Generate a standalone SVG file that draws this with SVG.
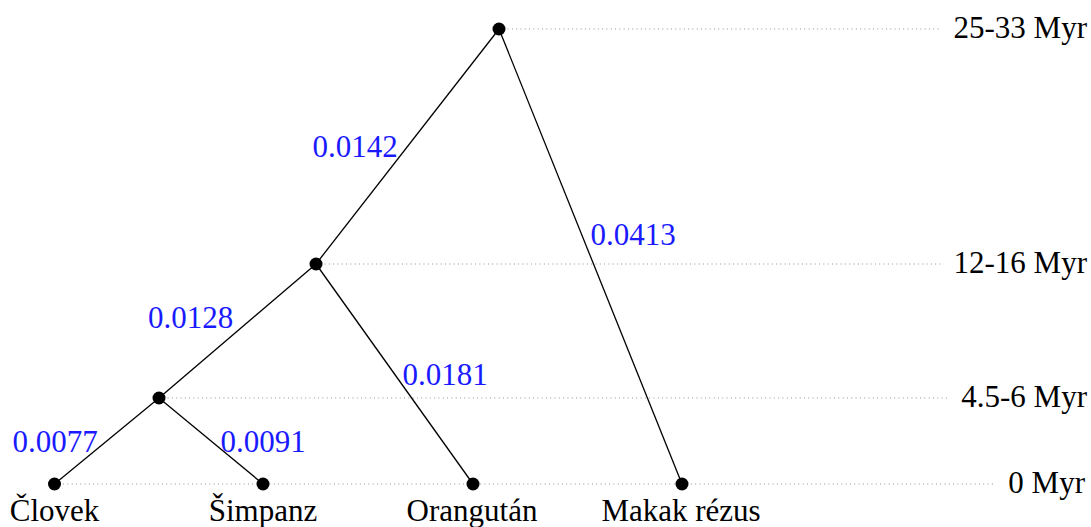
<svg xmlns="http://www.w3.org/2000/svg" width="1091" height="527" viewBox="0 0 1091 527">
<style>
.edge{stroke:#000;stroke-width:1.3;fill:none}
.guide{stroke:#8a8a8a;stroke-width:1;stroke-dasharray:0.9 3.4;fill:none}
.dot{fill:#000}
text{font-family:"Liberation Serif","DejaVu Serif",serif;font-size:31px}
.blen{fill:#1a1aff;text-anchor:middle}
.leaf{fill:#000;text-anchor:middle}
.time{fill:#000;text-anchor:end}
</style>
<rect width="1091" height="527" fill="#fff"/>
<g id="guides">
<line class="guide" x1="499" y1="29" x2="940" y2="29"/>
<line class="guide" x1="316" y1="264" x2="944" y2="264"/>
<line class="guide" x1="159" y1="398" x2="950" y2="398"/>
<line class="guide" x1="54.5" y1="484" x2="996" y2="484"/>
</g>
<g id="connectors">
<line class="edge" x1="499" y1="29" x2="316" y2="264"/>
<line class="edge" x1="499" y1="29" x2="682" y2="484"/>
<line class="edge" x1="316" y1="264" x2="159" y2="398"/>
<line class="edge" x1="316" y1="264" x2="473" y2="484"/>
<line class="edge" x1="159" y1="398" x2="54.5" y2="484"/>
<line class="edge" x1="159" y1="398" x2="263" y2="484"/>
</g>
<g id="branch-lengths">
<text class="blen" x="355" y="157">0.0142</text>
<text class="blen" x="633" y="245">0.0413</text>
<text class="blen" x="190.5" y="328">0.0128</text>
<text class="blen" x="445" y="385">0.0181</text>
<text class="blen" x="55" y="452">0.0077</text>
<text class="blen" x="263" y="452">0.0091</text>
</g>
<g id="node-root"><circle class="dot" cx="499" cy="29" r="6.5"/></g>
<g id="node-12-16"><circle class="dot" cx="316" cy="264" r="6.5"/></g>
<g id="node-4-6"><circle class="dot" cx="159" cy="398" r="6.5"/></g>
<g id="node-clovek"><circle class="dot" cx="54.5" cy="484" r="6.5"/><text class="leaf" x="54.5" y="521">Človek</text></g>
<g id="node-simpanz"><circle class="dot" cx="263" cy="484" r="6.5"/><text class="leaf" x="263" y="521">Šimpanz</text></g>
<g id="node-orangutan"><circle class="dot" cx="473" cy="484" r="6.5"/><text class="leaf" x="472" y="521">Orangután</text></g>
<g id="node-makak"><circle class="dot" cx="682" cy="484" r="6.5"/><text class="leaf" x="681" y="521">Makak rézus</text></g>
<g id="time-labels">
<text class="time" x="1087" y="38">25-33 Myr</text>
<text class="time" x="1087" y="273">12-16 Myr</text>
<text class="time" x="1087" y="407">4.5-6 Myr</text>
<text class="time" x="1085" y="493">0 Myr</text>
</g>
</svg>
